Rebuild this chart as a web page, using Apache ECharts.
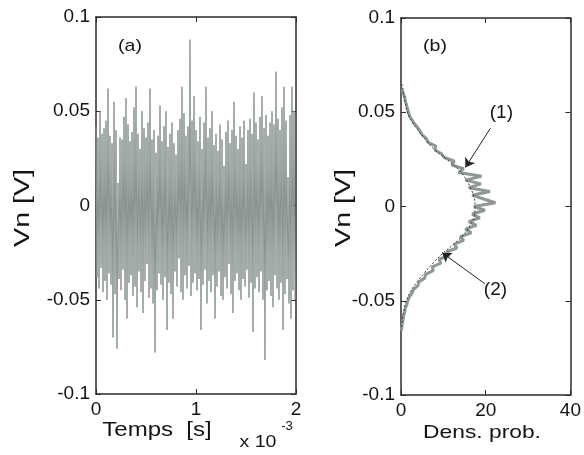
<!DOCTYPE html>
<html>
<head>
<meta charset="utf-8">
<script src="https://cdn.jsdelivr.net/npm/echarts@6/dist/echarts.min.js"></script>
<style>
  html, body { margin: 0; padding: 0; background: #fff; }
  #chart { width: 584px; height: 455px; }
</style>
</head>
<body>
<div id="chart"></div>
<script>
// (a) noise record: one peak and one trough read every 20 us
var sampleStep = 2e-5;
var noiseUpper = [
  0.042, 0.036, 0.050, 0.038, 0.041, 0.045, 0.062, 0.037, 0.033, 0.055,
  0.040, 0.012, 0.036, 0.035, 0.047, 0.057, 0.043, 0.034, 0.039, 0.052,
  0.063, 0.038, 0.030, 0.050, 0.041, 0.036, 0.044, 0.062, 0.035, 0.040,
  0.028, 0.037, 0.053, 0.034, 0.042, 0.050, 0.031, 0.038, 0.044, 0.033,
  0.027, 0.040, 0.046, 0.063, 0.049, 0.037, 0.042, 0.088, 0.045, 0.058,
  0.040, 0.034, 0.047, 0.030, 0.044, 0.063, 0.036, 0.041, 0.050, 0.032,
  0.038, 0.029, 0.043, 0.035, 0.021, 0.039, 0.045, 0.033, 0.040, 0.055,
  0.037, 0.030, 0.042, 0.036, 0.045, 0.022, 0.040, 0.046, 0.038, 0.060,
  0.044, 0.035, 0.047, 0.058, 0.041, 0.048, 0.037, 0.044, 0.050, 0.043,
  0.071, 0.046, 0.040, 0.052, 0.063, 0.045, 0.015, 0.048, 0.063, 0.050
];
var noiseLower = [
  -0.038, -0.044, -0.033, -0.046, -0.040, -0.050, -0.036, -0.042, -0.070, -0.047,
  -0.076, -0.039, -0.045, -0.034, -0.050, -0.060, -0.041, -0.037, -0.048, -0.043,
  -0.054, -0.035, -0.046, -0.057, -0.040, -0.031, -0.049, -0.044, -0.052, -0.078,
  -0.045, -0.036, -0.042, -0.050, -0.038, -0.066, -0.041, -0.047, -0.060, -0.035,
  -0.043, -0.028, -0.046, -0.050, -0.037, -0.044, -0.032, -0.048, -0.041, -0.036,
  -0.045, -0.039, -0.066, -0.042, -0.034, -0.052, -0.040, -0.046, -0.037, -0.060,
  -0.043, -0.035, -0.048, -0.050, -0.038, -0.044, -0.031, -0.047, -0.057, -0.040,
  -0.036, -0.045, -0.050, -0.039, -0.043, -0.034, -0.049, -0.041, -0.067, -0.044,
  -0.038, -0.046, -0.035, -0.050, -0.082, -0.045, -0.040, -0.048, -0.054, -0.037,
  -0.044, -0.050, -0.041, -0.066, -0.047, -0.039, -0.052, -0.060, -0.045, -0.050
];

// (b) probability density: measured (1) and gaussian fit (2)
var pdfVolt = [
  0.062, 0.060, 0.058, 0.056, 0.054, 0.052, 0.050, 0.048, 0.046, 0.044,
  0.042, 0.040, 0.038, 0.036, 0.034, 0.032, 0.030, 0.028, 0.026, 0.024,
  0.022, 0.020, 0.018, 0.016, 0.014, 0.012, 0.010, 0.008, 0.006, 0.004,
  0.002, 0.000, -0.002, -0.004, -0.006, -0.008, -0.010, -0.012, -0.014, -0.016,
  -0.018, -0.020, -0.022, -0.024, -0.026, -0.028, -0.030, -0.032, -0.034, -0.036,
  -0.038, -0.040, -0.042, -0.044, -0.046, -0.048, -0.050, -0.052, -0.054, -0.056,
  -0.058, -0.060, -0.062, -0.064, -0.066
];
var pdfMeasured = [
  0.3, 0.5, 0.9, 1.0, 1.3, 1.5, 1.8, 2.0, 2.6, 3.1,
  3.9, 4.5, 5.0, 6.0, 6.4, 8.2, 8.0, 9.6, 10.2, 12.6,
  12.0, 14.8, 13.6, 19.0, 15.2, 18.9, 16.0, 21.0, 16.8, 19.5,
  22.3, 17.2, 19.8, 16.8, 18.6, 16.0, 17.8, 15.2, 16.6, 14.0,
  14.8, 12.6, 13.2, 10.8, 11.4, 9.0, 9.4, 7.4, 7.6, 5.8,
  5.6, 4.2, 4.0, 3.0, 2.6, 2.0, 1.6, 1.4, 1.0, 0.9,
  0.6, 0.5, 0.3, 0.2, 0.1
];
var fitVolt = [
  0.065, 0.060, 0.055, 0.050, 0.045, 0.040, 0.035, 0.030, 0.025, 0.020,
  0.015, 0.010, 0.005, 0.000, -0.005, -0.010, -0.015, -0.020, -0.025, -0.030,
  -0.035, -0.040, -0.045, -0.050, -0.055, -0.060, -0.065
];
var fitDensity = [
  0.2, 0.6, 1.0, 1.5, 2.6, 4.2, 6.0, 8.0, 10.8, 13.4,
  15.2, 16.4, 17.2, 17.5, 17.3, 16.3, 14.8, 12.4, 9.8, 7.6,
  5.6, 3.8, 2.3, 1.3, 0.7, 0.3, 0.1
];

var voltTickLabels = ['-0.1', '-0.05', '0', '0.05', '0.1'];
var timeTickLabels = ['0', '1', '2'];
var densTickLabels = ['0', '20', '40'];

var noise = [];
for (var i = 0; i < noiseUpper.length; i++) {
  noise.push([i * sampleStep, noiseUpper[i]]);
  noise.push([i * sampleStep + sampleStep / 2, noiseLower[i]]);
}
var measured = pdfVolt.map(function (v, i) { return [pdfMeasured[i], v]; });
var fit = fitVolt.map(function (v, i) { return [fitDensity[i], v]; });

var frame = { show: true, onZero: false, lineStyle: { color: '#2b2b2b', width: 1.5 } };
var tickFont = { fontFamily: 'Liberation Sans, Arial, sans-serif', fontSize: 19, color: '#141414' };

function xAx(grid, min, max, step, labels, pos) {
  return {
    gridIndex: grid, type: 'value', position: pos, min: min, max: max, interval: step,
    axisLine: frame,
    axisTick: { show: true, inside: true, length: 5, lineStyle: { color: '#2b2b2b' } },
    axisLabel: Object.assign({
      show: pos === 'bottom', margin: 6,
      formatter: function (v) { return labels[Math.round((v - min) / step)]; }
    }, tickFont),
    splitLine: { show: false }
  };
}
function yAx(grid, pos) {
  return {
    gridIndex: grid, type: 'value', position: pos, min: -0.1, max: 0.1, interval: 0.05,
    axisLine: frame,
    axisTick: { show: true, inside: true, length: 5, lineStyle: { color: '#2b2b2b' } },
    axisLabel: Object.assign({
      show: pos === 'left', margin: 6,
      formatter: function (v) { return voltTickLabels[Math.round((v + 0.1) / 0.05)]; }
    }, tickFont),
    splitLine: { show: false }
  };
}

var txt = function (x, y, text, size, rot, sx) {
  return {
    type: 'text', x: x, y: y, rotation: rot || 0, scaleX: sx || 1, silent: true,
    style: {
      text: text, fill: '#141414', fontSize: size,
      fontFamily: 'Liberation Sans, Arial, sans-serif',
      align: 'center', verticalAlign: 'middle'
    }
  };
};

var chart = echarts.init(document.getElementById('chart'));
chart.setOption({
  animation: false,
  backgroundColor: '#fff',
  grid: [
    { left: 96, top: 17, width: 200, height: 377 },
    { left: 401, top: 18, width: 174, height: 377 }
  ],
  xAxis: [
    xAx(0, 0, 0.002, 0.001, timeTickLabels, 'bottom'),
    xAx(0, 0, 0.002, 0.001, timeTickLabels, 'top'),
    xAx(1, 0, 40, 20, densTickLabels, 'bottom'),
    xAx(1, 0, 40, 20, densTickLabels, 'top')
  ],
  yAxis: [yAx(0, 'left'), yAx(0, 'right'), yAx(1, 'left'), yAx(1, 'right')],
  series: [{
    name: 'Vn', type: 'line', xAxisIndex: 0, yAxisIndex: 0,
    data: noise, showSymbol: false, sampling: 'none',
    lineStyle: { color: '#8a948f', width: 1 }
  }, {
    name: 'mesure', type: 'line', xAxisIndex: 2, yAxisIndex: 2,
    data: measured, showSymbol: false,
    lineStyle: { color: '#8f9893', width: 3 },
    markLine: {
      silent: true, symbol: ['none', 'arrow'], symbolSize: 9,
      lineStyle: { color: '#222', width: 1, type: 'solid' },
      label: { show: false },
      data: [
        [{ coord: [21.1, 0.0415] }, { coord: [15.2, 0.0207] }],
        [{ coord: [19.8, -0.041] }, { coord: [9.7, -0.0245] }]
      ]
    },
    markPoint: {
      silent: true, symbol: 'circle', symbolSize: 0,
      label: {
        show: true, position: 'inside', formatter: '{b}', color: '#141414',
        fontSize: 19, fontFamily: 'Liberation Sans, Arial, sans-serif'
      },
      data: [
        { name: '(1)', coord: [23.7, 0.0495] },
        { name: '(2)', coord: [22.3, -0.0441] }
      ]
    }
  }, {
    name: 'fit', type: 'line', xAxisIndex: 2, yAxisIndex: 2,
    data: fit, showSymbol: false, smooth: true,
    lineStyle: { color: '#3a3a3a', width: 1, type: [2, 2] }
  }],
  graphic: [
    txt(130, 46, '(a)', 17, 0, 1.15),
    txt(435, 46, '(b)', 17, 0, 1.15),
    txt(23, 208, 'Vn [V]', 22, Math.PI / 2, 1.3),
    txt(344, 208, 'Vn [V]', 22, Math.PI / 2, 1.3),
    txt(157, 430, 'Temps  [s]', 20, 0, 1.2),
    txt(482, 433, 'Dens. prob.', 19, 0, 1.2),
    txt(258, 442, 'x 10', 17, 0, 1.15),
    txt(287, 427, '-3', 12, 0, 1.1)
  ]
});
</script>
</body>
</html>
